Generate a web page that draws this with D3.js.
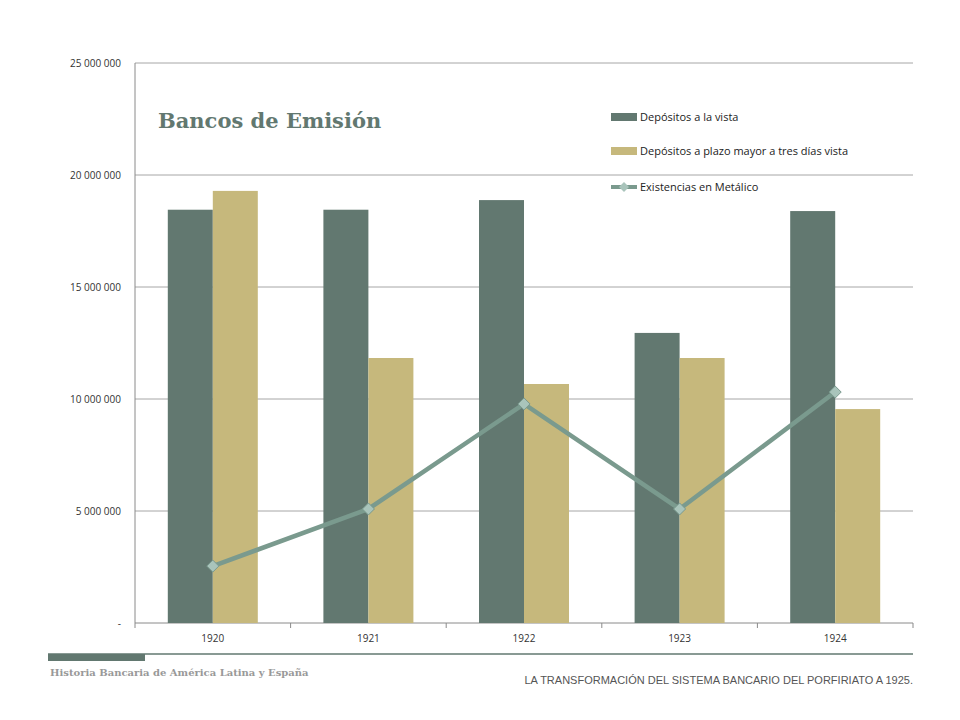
<!DOCTYPE html><html><head><meta charset="utf-8"><script src="https://cdn.jsdelivr.net/npm/d3@7"></script>
<style>body{margin:0;background:#fff}</style></head><body><svg id="c" width="960" height="720"></svg>
<script>
const years=["1920","1921","1922","1923","1924"];
const vista=[18450000,18450000,18880000,12950000,18390000];
const plazo=[19290000,11830000,10670000,11830000,9550000];
const metal=[2540000,5090000,9780000,5090000,10310000];
const yTicks=[0,5000000,10000000,15000000,20000000,25000000];
const svg=d3.select("#c");
const L=135,R=913,T=63,B=623;
const x=d3.scaleBand().domain(years).range([L,R]);
const y=d3.scaleLinear().domain([0,25000000]).range([B,T]);
const fmt=v=>v===0?"-":d3.format(",")(v).replace(/,/g," ");
yTicks.forEach(t=>{svg.append("line").attr("x1",L).attr("x2",R).attr("y1",y(t)).attr("y2",y(t)).attr("stroke",t?"#a6a6a6":"#8a8a8a");
svg.append("text").attr("x",121).attr("y",y(t)+4).attr("text-anchor","end").attr("font-family","Open Sans").attr("font-size",10).attr("fill","#333").text(fmt(t));});
svg.append("line").attr("x1",L).attr("x2",L).attr("y1",T).attr("y2",B).attr("stroke","#8a8a8a");
years.forEach((yr,i)=>{const x0=x(yr);svg.append("line").attr("x1",x0+x.bandwidth()).attr("x2",x0+x.bandwidth()).attr("y1",B).attr("y2",B+5).attr("stroke","#8a8a8a");
svg.append("text").attr("x",x0+x.bandwidth()/2).attr("y",642).attr("text-anchor","middle").attr("font-family","Open Sans").attr("font-size",10).attr("fill","#333").text(yr);});
svg.append("line").attr("x1",L).attr("x2",L).attr("y1",B).attr("y2",B+5).attr("stroke","#8a8a8a");
const bw=45;
years.forEach((yr,i)=>{const c=x(yr)+x.bandwidth()/2;
svg.append("rect").attr("x",c-bw).attr("width",bw).attr("y",y(vista[i])).attr("height",B-y(vista[i])).attr("fill","#627870");
svg.append("rect").attr("x",c).attr("width",bw).attr("y",y(plazo[i])).attr("height",B-y(plazo[i])).attr("fill","#c6b87c");});
const line=d3.line().x((d,i)=>x(years[i])+x.bandwidth()/2).y(d=>y(d));
svg.append("path").attr("d",line(metal)).attr("fill","none").attr("stroke","#7a9a8e").attr("stroke-width",4.5);
metal.forEach((d,i)=>{const cx=x(years[i])+x.bandwidth()/2,cy=y(d);
svg.append("path").attr("d",`M${cx},${cy-6}L${cx+6},${cy}L${cx},${cy+6}L${cx-6},${cy}Z`).attr("fill","#a9c4bb").attr("stroke","#7a9a8e");});
svg.append("text").attr("x",158).attr("y",128).attr("font-family","DejaVu Serif").attr("font-weight","bold").attr("font-size",21).attr("fill","#627870").text("Bancos de Emisión");
const lg=[["Depósitos a la vista","#627870"],["Depósitos a plazo mayor a tres días vista","#c6b87c"]];
lg.forEach((l,i)=>{const yy=117+i*34;svg.append("rect").attr("x",611).attr("y",yy-4).attr("width",26).attr("height",8).attr("fill",l[1]);
svg.append("text").attr("x",640).attr("y",yy+4).attr("font-family","Open Sans").attr("font-size",11).attr("fill","#222").text(l[0]);});
svg.append("line").attr("x1",611).attr("x2",637).attr("y1",187).attr("y2",187).attr("stroke","#7a9a8e").attr("stroke-width",4);
svg.append("path").attr("d","M624,182L629,187L624,192L619,187Z").attr("fill","#a9c4bb");
svg.append("text").attr("x",640).attr("y",191).attr("font-family","Open Sans").attr("font-size",11).attr("fill","#222").text("Existencias en Metálico");
svg.append("line").attr("x1",48).attr("x2",913).attr("y1",654).attr("y2",654).attr("stroke","#627870").attr("stroke-width",1.5);
svg.append("rect").attr("x",48).attr("y",654).attr("width",97).attr("height",7).attr("fill","#627870");
svg.append("text").attr("x",50).attr("y",676).attr("font-family","DejaVu Serif").attr("font-weight","bold").attr("font-size",10).attr("fill","#999").text("Historia Bancaria de América Latina y España");
svg.append("text").attr("x",913).attr("y",684).attr("text-anchor","end").attr("font-family","Liberation Sans").attr("font-size",11).attr("fill","#555").text("LA TRANSFORMACIÓN DEL SISTEMA BANCARIO DEL PORFIRIATO A 1925.");
</script></body></html>
